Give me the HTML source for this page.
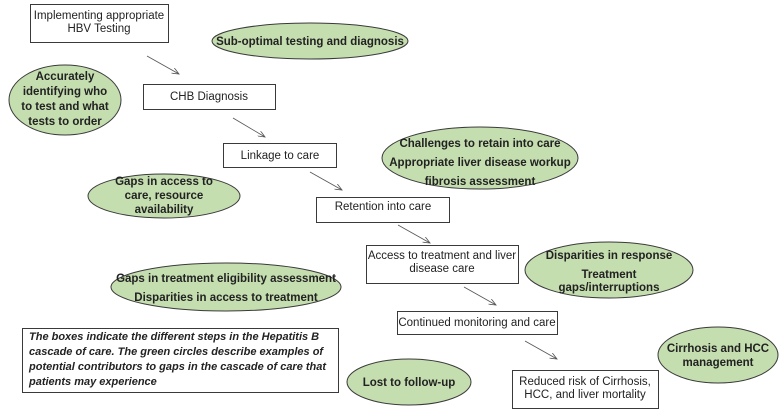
<!DOCTYPE html>
<html><head><meta charset="utf-8"><style>
html,body{margin:0;padding:0;background:#fff;}
svg{display:block;}
text{font-family:"Liberation Sans",Arial,sans-serif;fill:#222;}
.b{font-weight:bold;font-size:11.5px;}
.n{font-size:11.5px;}
.e{fill:#c5deb0;stroke:#3a3a3a;stroke-width:1;}
.r{fill:#fff;stroke:#3a3a3a;stroke-width:1;}
.a{stroke:#555;stroke-width:0.8;}
</style></head><body>
<svg width="780" height="414" viewBox="0 0 780 414" xmlns="http://www.w3.org/2000/svg">
<defs><marker id="m" markerWidth="8" markerHeight="6" refX="7" refY="3" orient="auto" markerUnits="userSpaceOnUse"><path d="M0,0 L7,3 L0,6" fill="none" stroke="#555" stroke-width="0.8"/></marker></defs>

<!-- boxes -->
<rect class="r" x="30.5" y="4.5" width="138" height="38"/>
<text class="n" x="99" y="19" text-anchor="middle">Implementing appropriate</text>
<text class="n" x="99" y="32" text-anchor="middle">HBV Testing</text>

<rect class="r" x="143.5" y="84.5" width="132" height="25"/>
<text class="n" x="209" y="100" text-anchor="middle">CHB Diagnosis</text>

<rect class="r" x="223.5" y="143.5" width="113" height="24"/>
<text class="n" x="280" y="159" text-anchor="middle">Linkage to care</text>

<rect class="r" x="316.5" y="197.5" width="133" height="25"/>
<text class="n" x="383" y="210" text-anchor="middle">Retention into care</text>

<rect class="r" x="366.5" y="245.5" width="152" height="38"/>
<text class="n" x="442" y="259" text-anchor="middle">Access to treatment and liver</text>
<text class="n" x="442" y="272" text-anchor="middle">disease care</text>

<rect class="r" x="397.5" y="311.5" width="160" height="23"/>
<text class="n" x="477" y="326" text-anchor="middle">Continued monitoring and care</text>

<rect class="r" x="512.5" y="370.5" width="146" height="38"/>
<text class="n" x="585" y="385" text-anchor="middle">Reduced risk of Cirrhosis,</text>
<text class="n" x="585" y="398" text-anchor="middle">HCC, and liver mortality</text>

<rect class="r" x="22.5" y="328.5" width="316" height="64"/>
<g font-style="italic" font-weight="bold" font-size="11px">
<text x="29" y="340">The boxes indicate the different steps in the Hepatitis B</text>
<text x="29" y="355">cascade of care.  The green circles describe examples of</text>
<text x="29" y="370">potential contributors to gaps in the cascade of care that</text>
<text x="29" y="385">patients may experience</text>
</g>

<!-- arrows -->
<line class="a" x1="147" y1="56" x2="179" y2="74" marker-end="url(#m)"/>
<line class="a" x1="233" y1="118" x2="265" y2="137" marker-end="url(#m)"/>
<line class="a" x1="310" y1="172" x2="342" y2="190" marker-end="url(#m)"/>
<line class="a" x1="398" y1="225" x2="430" y2="243" marker-end="url(#m)"/>
<line class="a" x1="464" y1="287" x2="496" y2="305" marker-end="url(#m)"/>
<line class="a" x1="525" y1="341" x2="557" y2="359" marker-end="url(#m)"/>

<!-- ellipses -->
<ellipse class="e" cx="310" cy="41" rx="98" ry="18"/>
<text class="b" x="310" y="45" text-anchor="middle">Sub-optimal testing and diagnosis</text>

<ellipse class="e" cx="65" cy="100" rx="56" ry="35"/>
<text class="b" x="65" y="80" text-anchor="middle">Accurately</text>
<text class="b" x="65" y="95" text-anchor="middle">identifying who</text>
<text class="b" x="65" y="110" text-anchor="middle">to test and what</text>
<text class="b" x="65" y="125" text-anchor="middle">tests to order</text>

<ellipse class="e" cx="164" cy="196" rx="76" ry="22"/>
<text class="b" x="164" y="185" text-anchor="middle">Gaps in access to</text>
<text class="b" x="164" y="199" text-anchor="middle">care, resource</text>
<text class="b" x="164" y="213" text-anchor="middle">availability</text>

<ellipse class="e" cx="480" cy="158" rx="98" ry="31"/>
<text class="b" x="480" y="147" text-anchor="middle">Challenges to retain into care</text>
<text class="b" x="480" y="166" text-anchor="middle">Appropriate liver disease workup</text>
<text class="b" x="480" y="185" text-anchor="middle">fibrosis assessment</text>

<ellipse class="e" cx="609" cy="270" rx="84" ry="28"/>
<text class="b" x="609" y="259" text-anchor="middle">Disparities in response</text>
<text class="b" x="609" y="278" text-anchor="middle">Treatment</text>
<text class="b" x="609" y="291" text-anchor="middle">gaps/interruptions</text>

<ellipse class="e" cx="226" cy="287" rx="115" ry="24"/>
<text class="b" x="226" y="282" text-anchor="middle">Gaps in treatment eligibility assessment</text>
<text class="b" x="226" y="301" text-anchor="middle">Disparities in access to treatment</text>

<ellipse class="e" cx="409" cy="382" rx="62" ry="23"/>
<text class="b" x="409" y="386" text-anchor="middle">Lost to follow-up</text>

<ellipse class="e" cx="718" cy="355" rx="60" ry="28"/>
<text class="b" x="718" y="352" text-anchor="middle">Cirrhosis and HCC</text>
<text class="b" x="718" y="366" text-anchor="middle">management</text>
</svg>
</body></html>
